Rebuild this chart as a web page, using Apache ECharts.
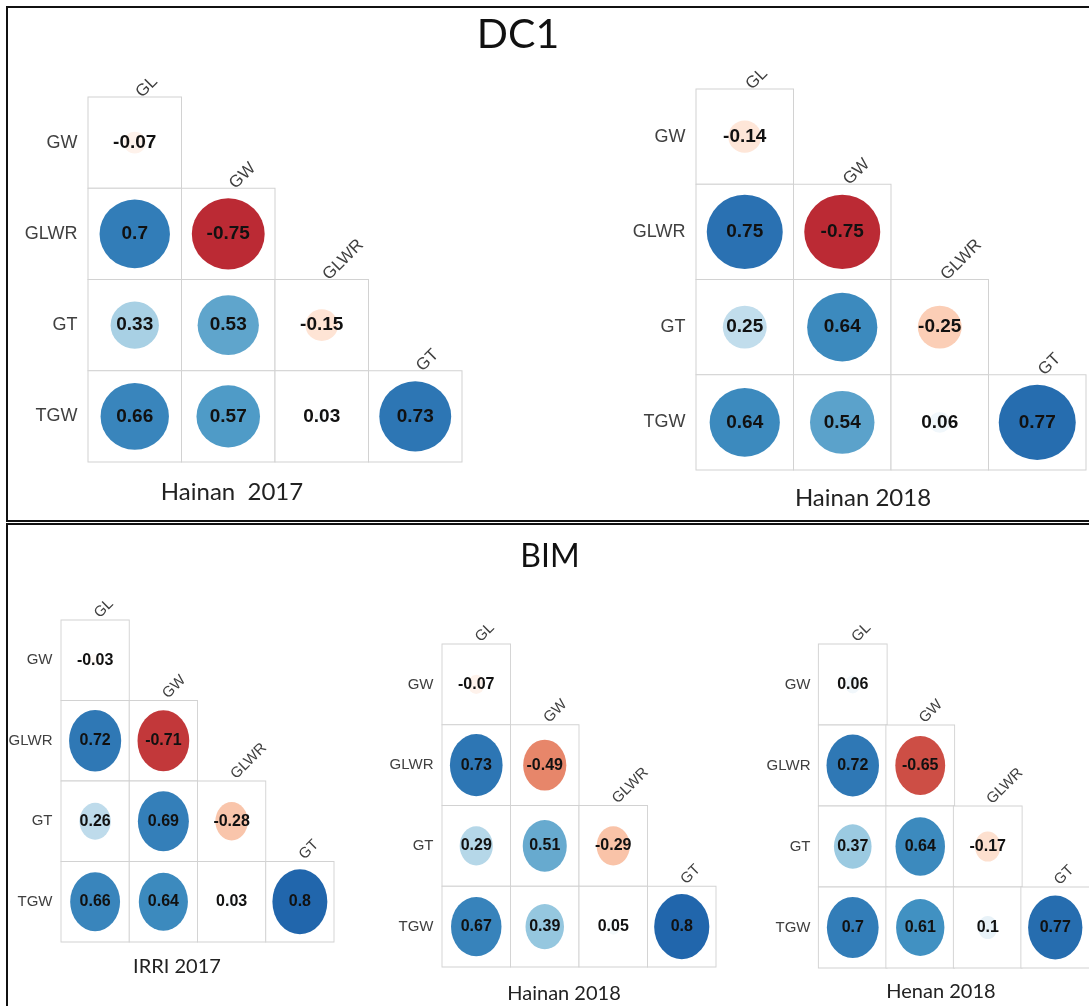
<!DOCTYPE html>
<html>
<head>
<meta charset="utf-8">
<script src="https://cdn.jsdelivr.net/npm/echarts@6/dist/echarts.min.js"></script>
<style>
  html, body { margin: 0; padding: 0; background: #fff; }
  #chart { width: 1089px; height: 1006px; }
</style>
</head>
<body>
<div id="chart"></div>
<script>
// Trait names: rows of the lower triangle and the columns above it
const rowNames = ['GW', 'GLWR', 'GT', 'TGW'];
const colNames = ['GL', 'GW', 'GLWR', 'GT'];

// Pearson correlations, lower triangle (row i holds columns 0..i)
const dc1Hainan2017 = [[-0.07], [0.7, -0.75], [0.33, 0.53, -0.15], [0.66, 0.57, 0.03, 0.73]];
const dc1Hainan2018 = [[-0.14], [0.75, -0.75], [0.25, 0.64, -0.25], [0.64, 0.54, 0.06, 0.77]];
const bimIrri2017 = [[-0.03], [0.72, -0.71], [0.26, 0.69, -0.28], [0.66, 0.64, 0.03, 0.8]];
const bimHainan2018 = [[-0.07], [0.73, -0.49], [0.29, 0.51, -0.29], [0.67, 0.39, 0.05, 0.8]];
const bimHenan2018 = [[0.06], [0.72, -0.65], [0.37, 0.64, -0.17], [0.7, 0.61, 0.1, 0.77]];

const panelValues = [dc1Hainan2017, dc1Hainan2018, bimIrri2017, bimHainan2018, bimHenan2018];
const panelTitles = ['Hainan  2017', 'Hainan 2018', 'IRRI 2017', 'Hainan 2018', 'Henan 2018'];
const groupTitles = ['DC1', 'BIM'];

// Diverging red-blue palette from -1 to 1
const rdBu = ['#67001F', '#B2182B', '#D6604D', '#F4A582', '#FDDBC7', '#FFFFFF',
              '#D1E5F0', '#92C5DE', '#4393C3', '#2166AC', '#053061'];

// ---- layout ----
const labelFont = "'Liberation Sans', Arial, sans-serif";
const titleFont = "Lato, 'Open Sans', sans-serif";

const bigStyle = { rowSize: 18, colSize: 17, valSize: 19, titleSize: 24, rowGap: 10, colShift: [10, 4] };
const smallStyle = { rowSize: 15, colSize: 15, valSize: 16, titleSize: 20, rowGap: 8, colShift: [7, 1] };

const panelLayout = [
  { grid: { left: 88, top: 97, width: 374, height: 365 }, title: [232, 492], style: bigStyle },
  { grid: { left: 696, top: 89, width: 390, height: 381 }, title: [863, 498], style: bigStyle },
  { grid: { left: 61, top: 620, width: 273, height: 322 }, title: [177, 967], style: smallStyle },
  { grid: { left: 442, top: 644, width: 274, height: 323 }, title: [564, 994], style: smallStyle },
  { grid: { left: 819, top: 644, width: 275, height: 324 }, title: [941, 992], style: smallStyle }
];
const groupTitleLayout = [
  { x: 518, y: 35, size: 41 },
  { x: 550, y: 557, size: 32 }
];

const n = rowNames.length;
const grids = [], xAxes = [], yAxes = [], series = [], circleSeries = [];
const graphics = [];

panelValues.forEach(function (values, p) {
  const L = panelLayout[p];
  const st = L.style;
  const cw = L.grid.width / n;
  const ch = L.grid.height / n;

  grids.push(Object.assign({}, L.grid));
  xAxes.push({ type: 'value', gridIndex: p, min: -0.5, max: n - 0.5, show: false });
  yAxes.push({ type: 'value', gridIndex: p, min: -0.5, max: n - 0.5, inverse: true, show: false });

  const cells = [], circles = [];
  values.forEach(function (row, i) {
    row.forEach(function (r, j) {
      cells.push([j, i]);
      circles.push([j, i, r]);
    });
  });

  // cell frames
  series.push({
    type: 'scatter', xAxisIndex: p, yAxisIndex: p, clip: false, silent: true, z: 1,
    symbol: 'rect', symbolSize: [cw, ch],
    itemStyle: { color: '#ffffff', borderColor: '#d2d2d2', borderWidth: 1, opacity: 1 },
    data: cells
  });

  // correlation circles: area proportional to |r|
  circleSeries.push(series.length);
  series.push({
    type: 'scatter', xAxisIndex: p, yAxisIndex: p, clip: false, silent: true, z: 2,
    symbol: 'circle',
    symbolSize: function (v) {
      const k = 0.9 * Math.sqrt(Math.abs(v[2]));
      return [cw * k, ch * k];
    },
    itemStyle: { opacity: 1 },
    label: {
      show: true, position: 'inside',
      formatter: function (d) { return String(d.value[2]); },
      fontFamily: labelFont, fontWeight: 'bold', fontSize: st.valSize, color: '#111'
    },
    data: circles
  });

  // row names to the left of the triangle
  series.push({
    type: 'scatter', xAxisIndex: p, yAxisIndex: p, clip: false, silent: true, z: 3,
    symbolSize: 1, itemStyle: { color: 'rgba(0,0,0,0)', opacity: 1 },
    label: {
      show: true, position: 'left', distance: st.rowGap,
      formatter: function (d) { return d.value[2]; },
      fontFamily: labelFont, fontSize: st.rowSize, color: '#404040'
    },
    data: rowNames.map(function (name, i) { return [-0.5, i, name]; })
  });

  graphics.push({
    id: 'title' + p, type: 'text', x: L.title[0], y: L.title[1], silent: true,
    style: {
      text: panelTitles[p], font: st.titleSize + 'px ' + titleFont,
      fill: '#222', align: 'center', verticalAlign: 'middle',
      textAlign: 'center', textVerticalAlign: 'middle'
    }
  });
});

groupTitles.forEach(function (t, g) {
  const G = groupTitleLayout[g];
  graphics.push({
    id: 'group' + g, type: 'text', x: G.x, y: G.y, silent: true,
    style: {
      text: t, font: G.size + 'px ' + titleFont, fill: '#111',
      align: 'center', verticalAlign: 'middle', textAlign: 'center', textVerticalAlign: 'middle'
    }
  });
});

// the two framed blocks
graphics.push({
  id: 'frameTop', type: 'rect', silent: true, z: -1,
  shape: { x: 7, y: 7, width: 1100, height: 514 },
  style: { fill: 'none', stroke: '#111', lineWidth: 2 }
});
graphics.push({
  id: 'frameBottom', type: 'rect', silent: true, z: -1,
  shape: { x: 7, y: 524, width: 1100, height: 500 },
  style: { fill: 'none', stroke: '#111', lineWidth: 2 }
});

const chart = echarts.init(document.getElementById('chart'), null, { renderer: 'canvas' });
chart.setOption({
  animation: false,
  backgroundColor: '#ffffff',
  grid: grids,
  xAxis: xAxes,
  yAxis: yAxes,
  visualMap: {
    type: 'continuous', show: false, dimension: 2, min: -1, max: 1,
    seriesIndex: circleSeries,
    inRange: { color: rdBu }
  },
  graphic: { elements: graphics },
  series: series
});

// column names, tilted 45 degrees, standing on top of each diagonal cell
const colLabels = [];
panelValues.forEach(function (values, p) {
  const st = panelLayout[p].style;
  colNames.forEach(function (name, j) {
    const pt = chart.convertToPixel({ gridIndex: p }, [j, j - 0.5]);
    colLabels.push({
      id: 'col' + p + '_' + j, type: 'text', silent: true,
      x: pt[0] + st.colShift[0], y: pt[1] + st.colShift[1], rotation: Math.PI / 4,
      style: {
        text: name, font: st.colSize + 'px ' + labelFont, fill: '#404040',
        align: 'left', verticalAlign: 'bottom', textAlign: 'left', textVerticalAlign: 'bottom'
      }
    });
  });
});
chart.setOption({ graphic: { elements: graphics.concat(colLabels) } });
</script>
</body>
</html>
